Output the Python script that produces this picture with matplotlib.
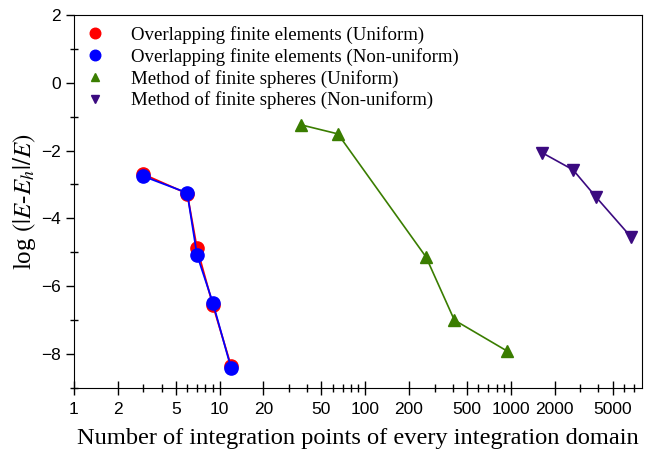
import matplotlib
matplotlib.use("Agg")
import matplotlib.pyplot as plt
from matplotlib.ticker import FixedLocator, FixedFormatter, MultipleLocator

# 数据
ofe_uni_x = [3, 6, 7, 9, 12]
ofe_uni_y = [-2.70, -3.27, -4.87, -6.56, -8.35]
ofe_non_x = [3, 6, 7, 9, 12]
ofe_non_y = [-2.76, -3.25, -5.07, -6.49, -8.41]
mfs_uni_x = [36, 65, 262, 410, 950]
mfs_uni_y = [-1.24, -1.51, -5.14, -7.00, -7.92]
mfs_non_x = [1650, 2680, 3850, 6700]
mfs_non_y = [-2.07, -2.57, -3.37, -4.55]

labels = ["Overlapping finite elements (Uniform)",
          "Overlapping finite elements (Non-uniform)",
          "Method of finite spheres (Uniform)",
          "Method of finite spheres (Non-uniform)"]

x_major = [1, 2, 5, 10, 20, 50, 100, 200, 500, 1000, 2000, 5000]
x_minor = [m * d for d in [1, 10, 100, 1000] for m in [3, 4, 6, 7, 8, 9] if m * d < 8000]

plt.rcParams['mathtext.fontset'] = 'stix'

fig = plt.figure(figsize=(6.54, 4.5), dpi=100)
ax = fig.add_axes([0.113, 0.138, 0.869, 0.829])

ax.plot(ofe_uni_x, ofe_uni_y, '-o', color='#ff0000', lw=1.3, ms=9.5, label=labels[0])
ax.plot(ofe_non_x, ofe_non_y, '-o', color='#0000ff', lw=1.3, ms=9.5, label=labels[1])
ax.plot(mfs_uni_x, mfs_uni_y, '-^', color='#3a7d00', lw=1.2, ms=8, label=labels[2])
ax.plot(mfs_non_x, mfs_non_y, '-v', color='#3b0a80', lw=1.2, ms=8, label=labels[3])

ax.set_xscale('log')
ax.set_xlim(1, 8000)
ax.set_ylim(-9, 2)

ax.xaxis.set_major_locator(FixedLocator(x_major))
ax.xaxis.set_major_formatter(FixedFormatter([str(v) for v in x_major]))
ax.xaxis.set_minor_locator(FixedLocator(x_minor))
ax.xaxis.set_minor_formatter(FixedFormatter([]))
ax.yaxis.set_major_locator(MultipleLocator(2))
ax.yaxis.set_minor_locator(MultipleLocator(1))

ax.tick_params(axis='x', which='major', direction='inout', length=10, width=1, labelsize=12.5, pad=5)
ax.tick_params(axis='x', which='minor', direction='inout', length=6, width=1)
ax.tick_params(axis='y', which='major', direction='out', length=6, width=1, labelsize=12.5)
ax.tick_params(axis='y', which='minor', direction='inout', length=6, width=1)
for lab in ax.get_xticklabels() + ax.get_yticklabels():
    lab.set_family('Liberation Sans')

ax.set_xlabel("Number of integration points of every integration domain",
              family='Liberation Serif', fontsize=17.6, labelpad=8)
ax.set_ylabel(r"log $(|E$-$E_h|/E)$", family='Liberation Serif', fontsize=18, labelpad=2)

ax.legend(loc='upper left', frameon=False, prop={'family': 'Liberation Serif', 'size': 13.6},
          handlelength=1.0, handletextpad=1.4, labelspacing=0.2, borderaxespad=0.3,
          borderpad=0.3, markerscale=0.8)
for h in ax.get_legend().get_lines():
    h.set_linestyle('')

fig.savefig("out.png", dpi=100)
